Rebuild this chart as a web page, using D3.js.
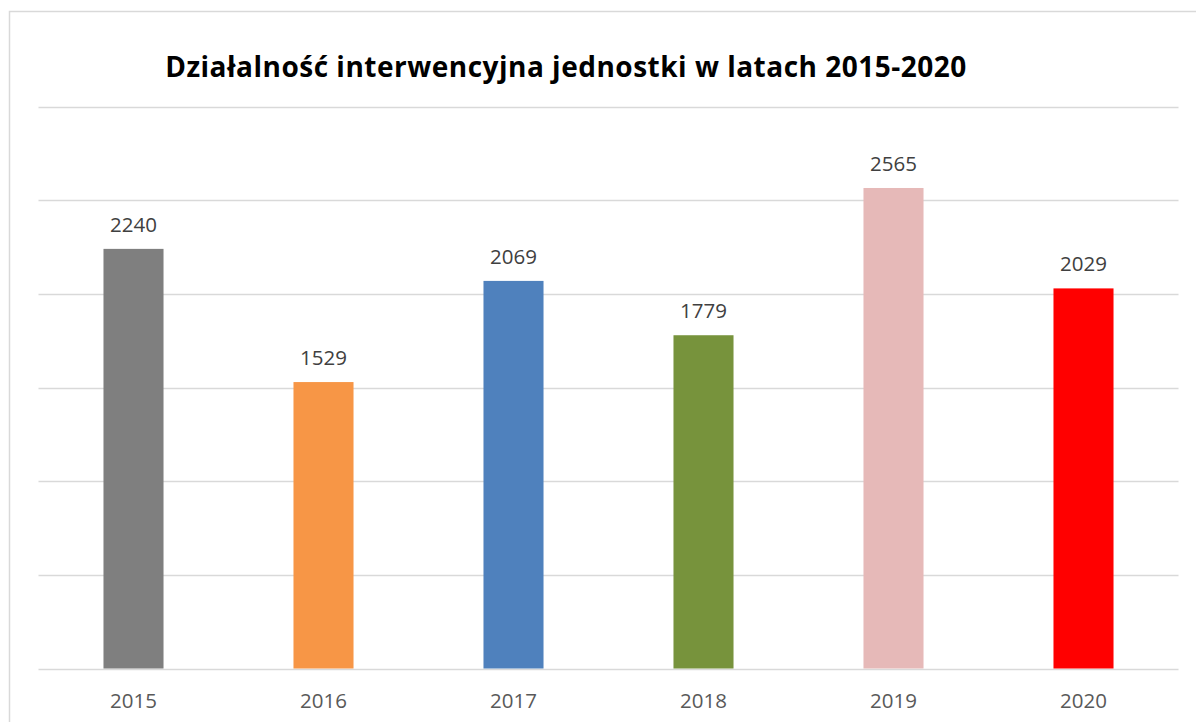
<!DOCTYPE html>
<html><head><meta charset="utf-8">
<script src="https://cdn.jsdelivr.net/npm/d3@7"></script>
<style>body{margin:0;background:#fff}svg{display:block}</style>
</head><body>
<script>
const years = ["2015","2016","2017","2018","2019","2020"];
const values = [2240, 1529, 2069, 1779, 2565, 2029];
const colors = ["#7f7f7f","#f79646","#4f81bd","#77933c","#e6b9b8","#ff0000"];
const yTicks = [0,500,1000,1500,2000,2500,3000];
const title = "Działalność interwencyjna jednostki w latach 2015-2020";

const W = 1196, H = 722;
const svg = d3.select("body").append("svg").attr("width", W).attr("height", H);
svg.append("rect").attr("x",9.5).attr("y",11.5).attr("width",1196).attr("height",722)
  .attr("fill","#fff").attr("stroke","#d9d9d9").attr("stroke-width",1.5);

const x = d3.scaleBand().domain(years).range([38.5,1178.5]).paddingInner(0.684).paddingOuter(0.342);
const y = d3.scaleLinear().domain([0,3000]).range([668.5,106.5]);

svg.append("g").selectAll("line").data(yTicks).join("line")
  .attr("x1",38.5).attr("x2",1178.5).attr("y1",d=>Math.round(y(d))+0.5).attr("y2",d=>Math.round(y(d))+0.5)
  .attr("stroke","#d9d9d9").attr("stroke-width",1.5);

svg.append("g").selectAll("rect").data(values).join("rect")
  .attr("x",(d,i)=>x(years[i])).attr("width",x.bandwidth())
  .attr("y",d=>y(d)).attr("height",d=>y(0)-y(d))
  .attr("fill",(d,i)=>colors[i]);

const xAxis = d3.axisBottom(x).tickSize(0).tickPadding(0);
const gx = svg.append("g").attr("transform",`translate(0,${y(0)})`).call(xAxis);
gx.select(".domain").remove();
gx.selectAll("text").attr("dy",0).attr("y",39).attr("font-family","'Open Sans', sans-serif")
  .attr("font-size",20.5).attr("fill","#595959");

svg.append("g").selectAll("text").data(values).join("text")
  .attr("x",(d,i)=>x(years[i])+x.bandwidth()/2).attr("y",d=>y(d)-17)
  .attr("text-anchor","middle").attr("font-family","'Open Sans', sans-serif")
  .attr("font-size",20.5).attr("fill","#404040").text(d=>d);

svg.append("text").attr("x",566).attr("y",77).attr("text-anchor","middle")
  .attr("font-family","'Open Sans', sans-serif").attr("font-weight","bold")
  .attr("font-size",28).attr("letter-spacing",0.5).attr("fill","#000").text(title);
</script>
</body></html>
